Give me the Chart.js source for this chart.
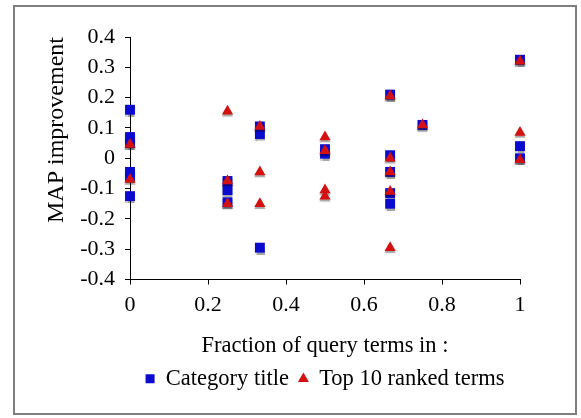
<!DOCTYPE html>
<html lang="en">
  <head>
    <meta charset="UTF-8" />
    <script src="https://cdn.jsdelivr.net/npm/chart.js"></script>
    <title>MAP improvement</title>
    <style>
      body {
        margin: 0;
        background: #fff;
      }
      #wrap {
        position: relative;
        width: 581px;
        height: 418px;
      }
      #frame {
        position: absolute;
        left: 13px;
        top: 5px;
        width: 564px;
        height: 410px;
        box-sizing: border-box;
        border: 2px solid #7f7f7f;
        pointer-events: none;
      }
    </style>
  </head>
  <body>
    <div id="wrap">
      <canvas id="chart"></canvas>
      <div id="frame"></div>
    </div>
    <script>
      // data
      const categoryX = [0, 0, 0, 0, 0, 0, 0.25, 0.25, 0.25, 0.333, 0.333, 0.333, 0.5, 0.5,
        0.667, 0.667, 0.667, 0.667, 0.667, 0.75, 1, 1, 1];
      const categoryY = [0.16, 0.07, 0.05, -0.045, -0.06, -0.125, -0.075, -0.105, -0.145, 0.105, 0.08, -0.295, 0.03, 0.015,
        0.21, 0.01, -0.045, -0.115, -0.15, 0.11, 0.325, 0.04, 0.0];
      const topTenX = [0, 0, 0.25, 0.25, 0.25, 0.333, 0.333, 0.333, 0.5, 0.5, 0.5, 0.5,
        0.667, 0.667, 0.667, 0.667, 0.667, 0.75, 1, 1, 1];
      const topTenY = [0.045, -0.07, 0.155, -0.075, -0.15, 0.105, -0.045, -0.15, 0.07, 0.025, -0.105, -0.125,
        0.205, 0.0, -0.045, -0.11, -0.295, 0.11, 0.32, 0.085, -0.005];
      const seriesNames = ['Category title', 'Top 10 ranked terms'];
      const xTitle = 'Fraction of query terms in :';
      const yTitle = 'MAP improvement';

      const toPoints = (xs, ys) => xs.map((x, i) => ({ x: x, y: ys[i] }));
      const fmt = (v) => String(Math.round(v * 10) / 10);
      const serif = 'Liberation Serif, Times New Roman, serif';

      // grey drop shadow under markers, like the original
      const markerShadow = {
        id: 'markerShadow',
        beforeDatasetsDraw(chart) {
          const c = chart.ctx;
          c.save();
          c.shadowColor = 'rgba(0,0,0,0.35)';
          c.shadowOffsetY = 2;
          c.shadowBlur = 1;
        },
        afterDatasetsDraw(chart) {
          chart.ctx.restore();
        },
      };

      Chart.defaults.font.family = serif;
      Chart.defaults.color = '#000';

      new Chart(document.getElementById('chart'), {
        type: 'scatter',
        data: {
          datasets: [
            {
              label: seriesNames[0],
              data: toPoints(categoryX, categoryY),
              pointStyle: 'rect',
              pointRadius: 7,
              backgroundColor: '#0b0bd0',
              borderColor: '#0b0bd0',
              borderWidth: 0,
              order: 1,
              clip: false,
            },
            {
              label: seriesNames[1],
              data: toPoints(topTenX, topTenY),
              pointStyle: 'triangle',
              pointRadius: 6.5,
              backgroundColor: '#d41010',
              borderColor: '#d41010',
              borderWidth: 0,
              order: 0,
              clip: false,
            },
          ],
        },
        options: {
          responsive: true,
          maintainAspectRatio: false,
          animation: false,
          events: [],
          layout: {
            padding: { left: 0, right: 61, top: 37, bottom: 18 },
          },
          plugins: {
            tooltip: { enabled: false },
            legend: {
              position: 'bottom',
              fullSize: false,
              labels: {
                usePointStyle: true,
                boxWidth: 9,
                boxHeight: 9,
                padding: 10,
                font: { size: 22.5 },
                sort: (a, b) => a.datasetIndex - b.datasetIndex,
              },
            },
          },
          scales: {
            x: {
              type: 'linear',
              min: 0,
              max: 1,
              afterFit: (s) => { s.height = 78; },
              grid: { drawOnChartArea: false, tickLength: 5, color: '#000' },
              border: { color: '#000', width: 1 },
              ticks: { stepSize: 0.2, padding: 8, font: { size: 22 }, callback: fmt },
              title: { display: true, text: xTitle, font: { size: 22.5, lineHeight: 1 }, padding: 0 },
            },
            y: {
              min: -0.4,
              max: 0.4,
              afterFit: (s) => { s.width = 130; },
              grid: { drawOnChartArea: false, tickLength: 5, color: '#000' },
              border: { color: '#000', width: 1 },
              ticks: { stepSize: 0.1, padding: 10, font: { size: 22 }, callback: fmt },
              title: {
                display: true,
                text: yTitle,
                align: 'end',
                font: { size: 24, lineHeight: 1 },
                padding: { top: 45, bottom: 0 },
              },
            },
          },
        },
        plugins: [markerShadow],
      });
    </script>
  </body>
</html>
